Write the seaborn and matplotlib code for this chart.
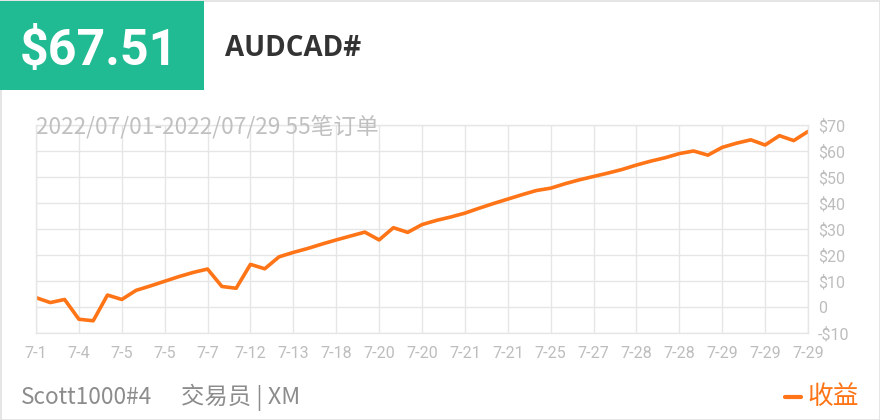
import matplotlib
matplotlib.use("Agg")
import matplotlib.pyplot as plt
import seaborn as sns
import pandas as pd
from matplotlib.patches import Rectangle

# equity curve, one point per order
profit = [3.6, 1.7, 2.9, -4.7, -5.3, 4.6, 2.9, 6.4, 8.1, 9.9,
          11.7, 13.3, 14.6, 7.9, 7.2, 16.4, 14.7, 19.3, 21.0, 22.5,
          24.2, 25.8, 27.3, 28.8, 25.8, 30.5, 28.7, 31.7, 33.3, 34.6,
          36.1, 38.0, 39.8, 41.5, 43.2, 44.8, 45.7, 47.4, 48.9, 50.2,
          51.5, 52.9, 54.6, 56.1, 57.4, 59.0, 60.0, 58.4, 61.4, 63.0,
          64.3, 62.3, 65.9, 64.0, 67.51]
tick_labels = ["7-1", "7-4", "7-5", "7-5", "7-7", "7-12", "7-13", "7-18", "7-20", "7-20",
               "7-21", "7-21", "7-25", "7-27", "7-28", "7-28", "7-29", "7-29", "7-29"]
y_ticks = [-10, 0, 10, 20, 30, 40, 50, 60, 70]
y_labels = ["-$10", "0", "$10", "$20", "$30", "$40", "$50", "$60", "$70"]

total = "$67.51"
symbol = "AUDCAD#"
subtitle = "2022/07/01-2022/07/29 55笔订单"
trader = "Scott1000#4"
broker = "交易员 | XM"
legend_label = "收益"

sns.set_style("white")
plt.rcParams['font.family'] = ['Noto Sans CJK SC', 'DejaVu Sans']

LINE = "#ff7416"
GRID = "#e6e6e6"
TICK = "#bdbdbd"

df = pd.DataFrame({"order": range(len(profit)), "profit": profit})

fig = plt.figure(figsize=(8.8, 4.2), dpi=100)
ax = fig.add_axes([36 / 880, 1 - 333 / 420, 772 / 880, 208 / 420])
sns.lineplot(data=df, x="order", y="profit", color=LINE, linewidth=2.6, ax=ax)

ax.set_xlim(0, len(profit) - 1)
ax.set_ylim(-10, 70)
ax.set_xticks(range(0, len(profit), 3))
ax.set_xticklabels(tick_labels)
ax.set_yticks(y_ticks)
ax.set_yticklabels(y_labels)
ax.yaxis.tick_right()
ax.set_xlabel("")
ax.set_ylabel("")
ax.tick_params(axis="both", length=0, colors=TICK, labelsize=11.5)
ax.tick_params(axis="x", pad=9)
ax.tick_params(axis="y", pad=7)
for lab in ax.get_xticklabels() + ax.get_yticklabels():
    lab.set_family(['Roboto', 'DejaVu Sans'])
ax.grid(True, color=GRID, linewidth=1)
ax.set_axisbelow(True)
for s in ax.spines.values():
    s.set_color(GRID)
    s.set_linewidth(1)

# header
fig.patches.append(Rectangle((0, 1 - 90 / 420), 204 / 880, 89 / 420, transform=fig.transFigure,
                             facecolor="#21bb93", edgecolor="none", zorder=0))
fig.text(99 / 880, 1 - 51 / 420, total, color="white", fontsize=36, fontweight="bold",
         ha="center", va="center", family=['Roboto', 'DejaVu Sans'])
fig.text(225 / 880, 1 - 48 / 420, symbol, color="#333333", fontsize=20, fontweight="bold",
         ha="left", va="center", family=['Open Sans', 'DejaVu Sans'])
fig.text(36 / 880, 1 - 127 / 420, subtitle, color="#c0c0c0", fontsize=16.3,
         ha="left", va="center")

# footer
fig.text(21 / 880, 1 - 397 / 420, trader, color="#8c8c8c", fontsize=16.3, ha="left", va="center")
fig.text(181 / 880, 1 - 397 / 420, broker, color="#8c8c8c", fontsize=16.8, ha="left", va="center")
fig.lines.append(plt.Line2D([785 / 880, 801 / 880], [1 - 397 / 420, 1 - 397 / 420],
                            transform=fig.transFigure, color=LINE, linewidth=3))
fig.text(807 / 880, 1 - 397 / 420, legend_label, color=LINE, fontsize=18.5, ha="left", va="center")

# card border
fig.patches.append(Rectangle((0.5 / 880, 0.5 / 420), 879 / 880, 419 / 420, transform=fig.transFigure,
                             facecolor="none", edgecolor="#e0e0e0", linewidth=1.2, zorder=-1))

fig.savefig("out.png", dpi=100)
